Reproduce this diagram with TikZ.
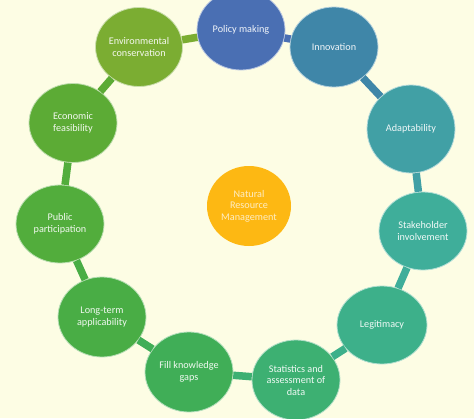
\documentclass[tikz,border=0pt]{standalone}
\usepackage{fontspec}
\setmainfont{Carlito}
\usetikzlibrary{shapes.geometric}
\definecolor{bgc}{HTML}{FDFDE4}
\definecolor{cPol}{HTML}{4A6FB3}
\definecolor{cInn}{HTML}{3F86A8}
\definecolor{cAda}{HTML}{41A0A5}
\definecolor{cSta}{HTML}{3FAE9A}
\definecolor{cLeg}{HTML}{3DB08A}
\definecolor{cSts}{HTML}{3DB072}
\definecolor{cFil}{HTML}{40AE57}
\definecolor{cLon}{HTML}{49AD45}
\definecolor{cPub}{HTML}{52AD3C}
\definecolor{cEco}{HTML}{5CAB35}
\definecolor{cEnv}{HTML}{7BAD32}
\definecolor{cNrm}{HTML}{FDB813}
\tikzset{
  bubble/.style={ellipse, minimum width=88pt, minimum height=80pt, inner sep=0pt,
    fill=#1, draw=white!60!#1, line width=0.8pt, align=center,
    text=white!92!#1, font=\fontsize{10.2}{11.5}\selectfont},
  conn/.style={line width=7.5pt, draw=#1}
}
\begin{document}
\begin{tikzpicture}[x=1pt,y=-1pt]
\useasboundingbox[fill=bgc] (0,0) rectangle (474,418);
\node[bubble=cPol] (pol) at (241,30) {Policy making};
\node[bubble=cInn] (inn) at (334,47) {Innovation};
\node[bubble=cAda, minimum height=88pt] (ada) at (411,129) {Adaptability};
\node[bubble=cSta, minimum height=78pt] (sta) at (423,231) {Stakeholder\\involvement};
\node[bubble=cLeg, minimum width=90pt, minimum height=78pt] (leg) at (382,325) {Legitimacy};
\node[bubble=cSts] (sts) at (296,380) {Statistics and\\assessment of\\data};
\node[bubble=cFil] (fil) at (189,372) {Fill knowledge\\gaps};
\node[bubble=cLon] (lon) at (102,317) {Long-term\\applicability};
\node[bubble=cPub, minimum height=78pt] (pub) at (60,224) {Public\\participation};
\node[bubble=cEco, minimum height=79pt] (eco) at (73,123) {Economic\\feasibility};
\node[bubble=cEnv, minimum width=87pt, minimum height=79pt] (env) at (139,47) {Environmental\\conservation};
\node[bubble=cNrm, minimum width=84pt, minimum height=80pt, draw=none, text=white!75!cNrm] (nrm) at (249,206) {Natural\\Resource\\Management};
\draw[conn=cPol] (pol) -- (inn);
\draw[conn=cInn] (inn) -- (ada);
\draw[conn=cAda] (ada) -- (sta);
\draw[conn=cSta] (sta) -- (leg);
\draw[conn=cLeg] (leg) -- (sts);
\draw[conn=cSts] (sts) -- (fil);
\draw[conn=cFil] (fil) -- (lon);
\draw[conn=cLon] (lon) -- (pub);
\draw[conn=cPub] (pub) -- (eco);
\draw[conn=cEco] (eco) -- (env);
\draw[conn=cEnv] (env) -- (pol);
\end{tikzpicture}
\end{document}
